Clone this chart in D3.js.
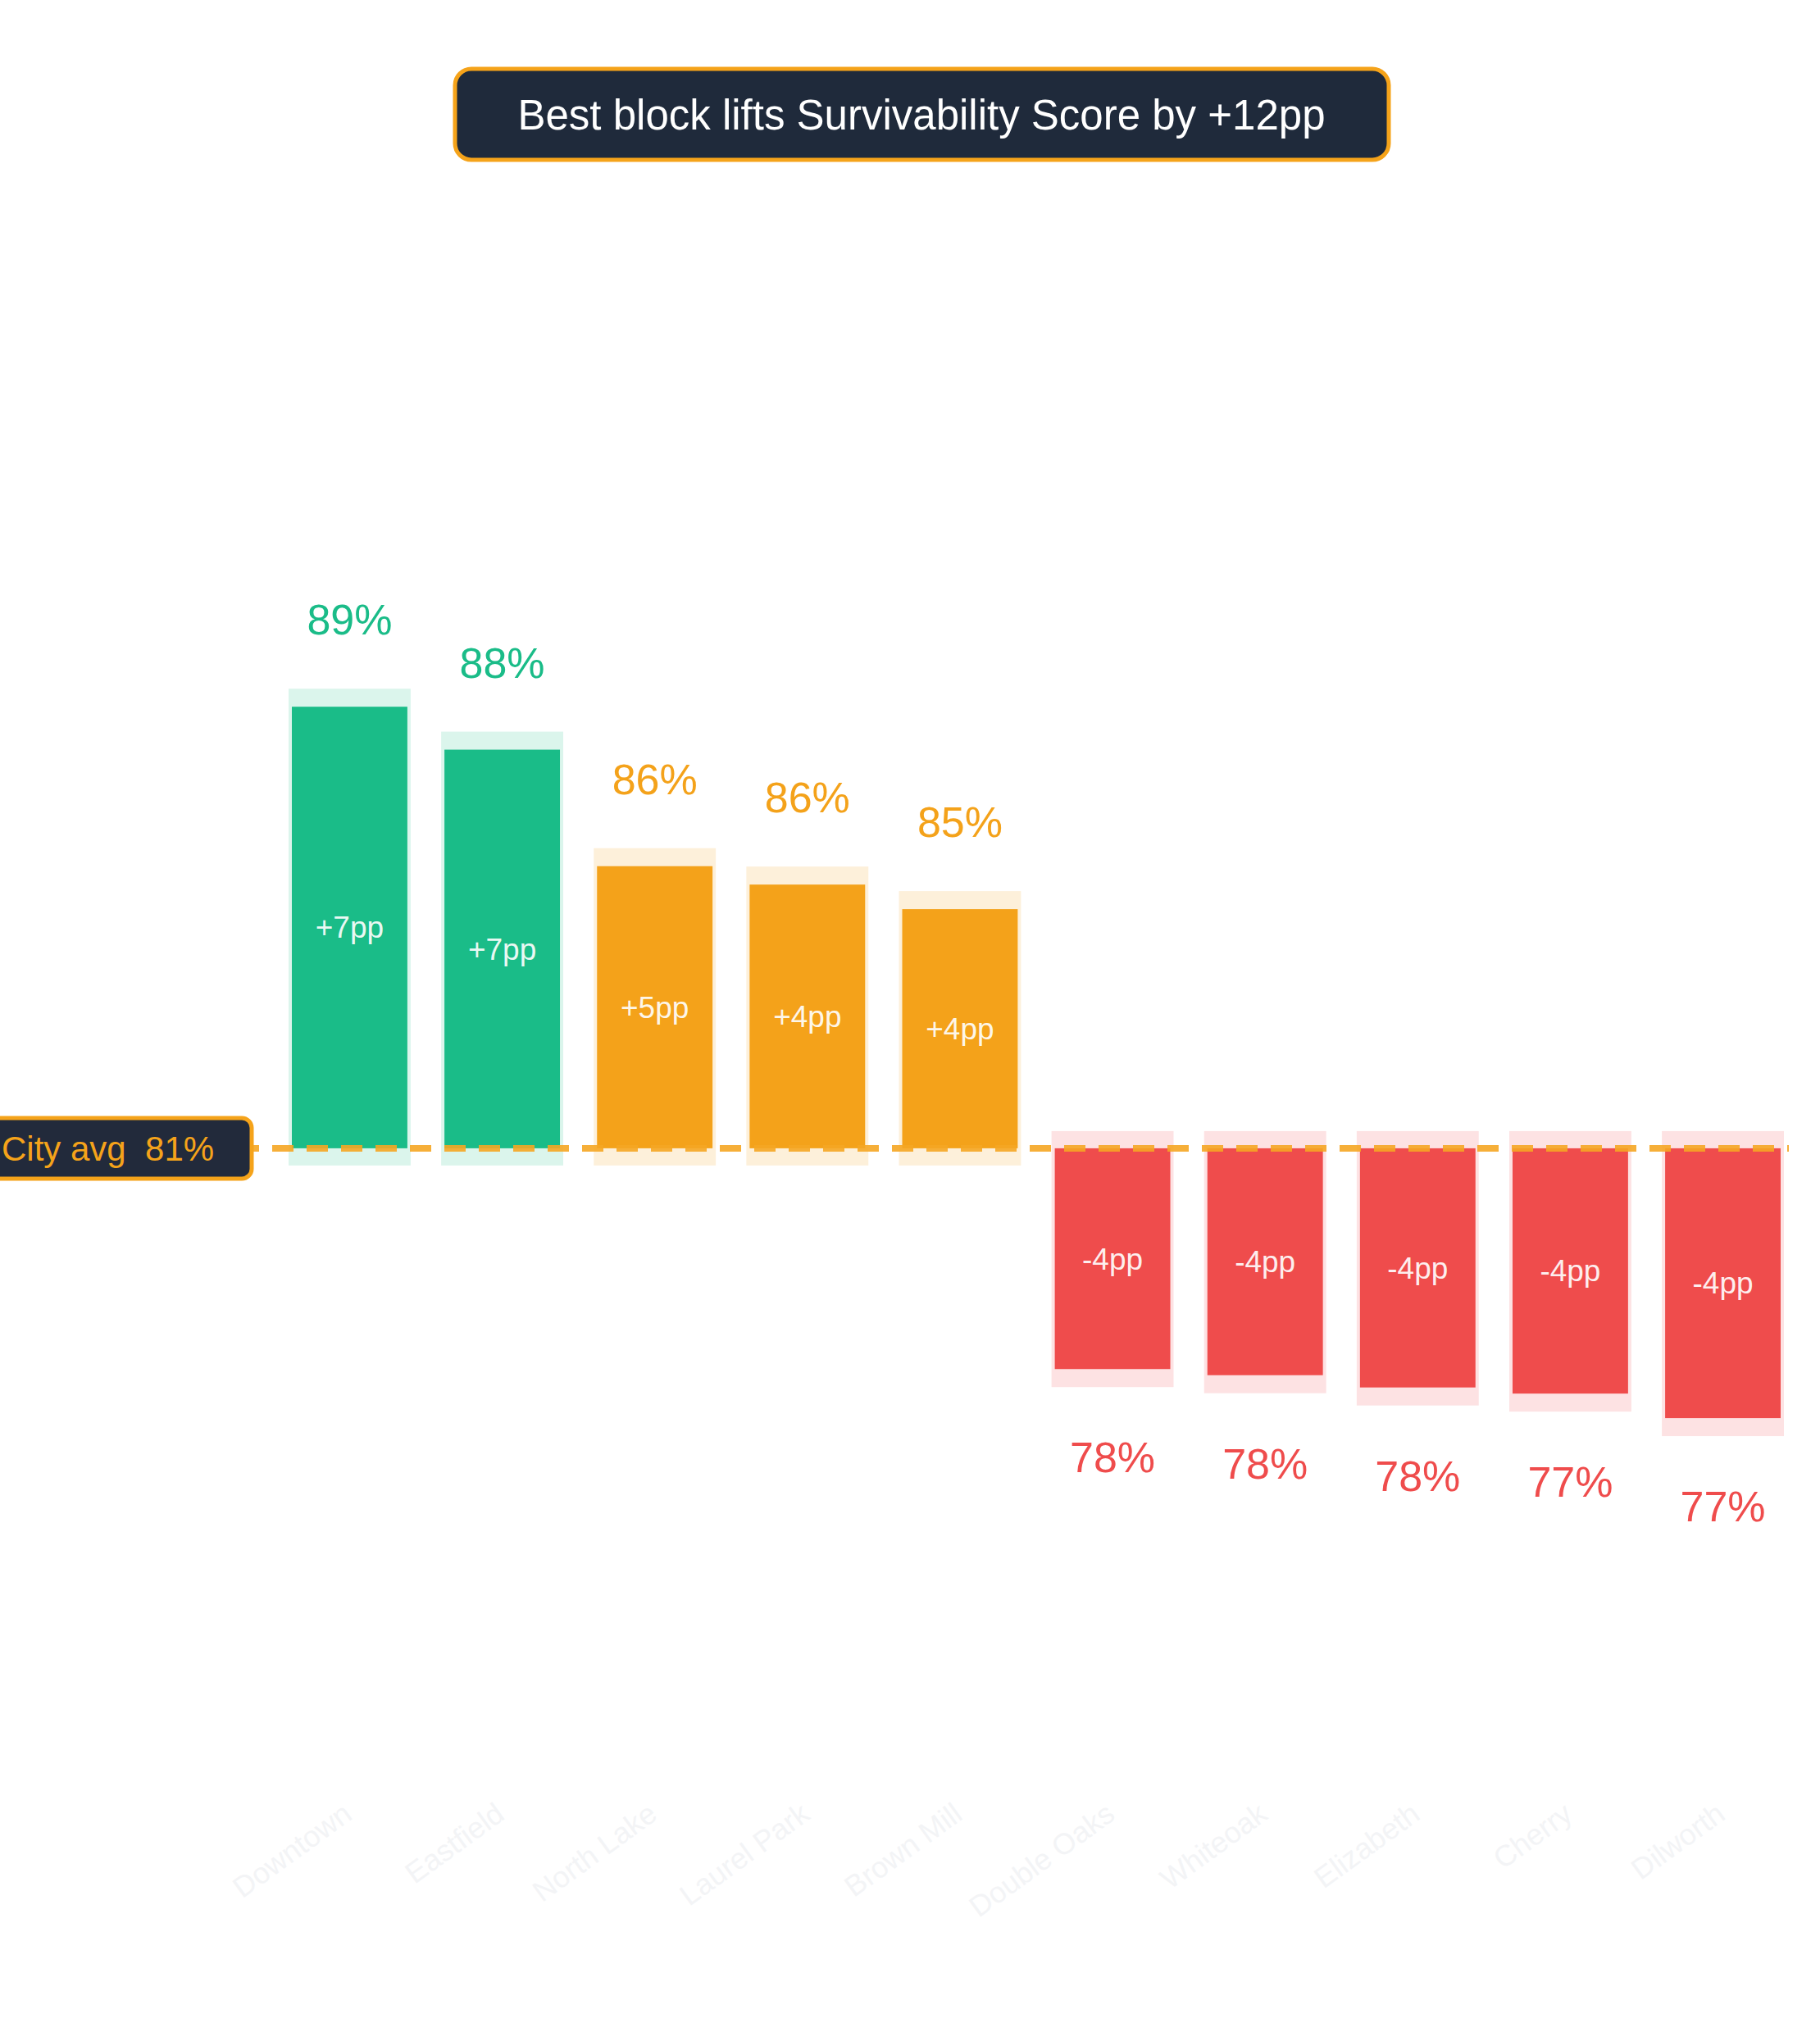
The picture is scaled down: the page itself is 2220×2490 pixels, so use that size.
<!DOCTYPE html>
<html><head><meta charset="utf-8">
<script src="https://cdn.jsdelivr.net/npm/d3@7"></script>
<style>body{margin:0;background:#fff}svg{display:block}</style>
</head><body>
<script>
const categories = ["Downtown","Eastfield","North Lake","Laurel Park","Brown Mill","Double Oaks","Whiteoak","Elizabeth","Cherry","Dilworth"];
const scores = [88.6, 87.9, 86.0, 85.7, 85.3, 77.8, 77.7, 77.5, 77.4, 77.0];
const cityAvg = 81.4;
const titleText = "Best block lifts Survivability Score by +12pp";

const W = 2220, H = 2490;
const font = "'Liberation Sans', Arial, Helvetica, sans-serif";
const svg = d3.select("body").append("svg").attr("width", W).attr("height", H);

const x = d3.scaleBand().domain(categories).range([356, 2172]).paddingInner(0.243).paddingOuter(0.0);
const y = d3.scaleLinear().domain([71, 93]).range([2179, 533]);

function tier(v){ return v >= 87 ? "g" : (v >= cityAvg ? "o" : "r"); }
const col = {g:"#1abc88", o:"#f4a21a", r:"#ef4c4c"};
const bgc = {g:"#dbf5ec", o:"#fdf0da", r:"#fde2e3"};

const base = y(cityAvg);
const g = svg.append("g");
categories.forEach((c, i) => {
  const v = scores[i], t = tier(v);
  const cx = x(c) + x.bandwidth()/2;
  const bw = x.bandwidth();
  const top = Math.min(y(v), base), bot = Math.max(y(v), base);
  const pad = 4;
  // background halo
  g.append("rect").attr("x", x(c) - pad).attr("width", bw + 2*pad)
    .attr("y", v >= cityAvg ? top - 22 : top - 21)
    .attr("height", bot - top + 43).attr("fill", bgc[t]);
  g.append("rect").attr("x", x(c)).attr("width", bw)
    .attr("y", top).attr("height", bot - top).attr("fill", col[t]);
  const d = Math.round(v - cityAvg);
  g.append("text").attr("x", cx).attr("y", (top + bot)/2).attr("dy", "0.35em")
    .attr("text-anchor", "middle").attr("fill", "#fff").attr("fill-opacity", 0.92)
    .attr("font-family", font).attr("font-size", 37)
    .text((d > 0 ? "+" : "") + d + "pp");
  g.append("text").attr("x", cx)
    .attr("y", v >= cityAvg ? top - 106 : bot + 108).attr("dy", "0.35em")
    .attr("text-anchor", "middle").attr("fill", col[t])
    .attr("font-family", font).attr("font-size", 52)
    .text(Math.round(v) + "%");
  // x label
  g.append("text").attr("transform", `translate(${cx + 5},${2218}) rotate(-36)`)
    .attr("text-anchor", "end").attr("fill", "#f3f4f6")
    .attr("font-family", font).attr("font-size", 36).text(c);
});

// city avg line
svg.append("line").attr("x1", 290).attr("x2", 2182).attr("y1", base).attr("y2", base)
  .attr("stroke", "#f5a623").attr("stroke-opacity", 0.9).attr("stroke-width", 8)
  .attr("stroke-dasharray", "26,16");

// city avg label
svg.append("rect").attr("x", -20).attr("y", base - 37).attr("width", 327).attr("height", 74)
  .attr("rx", 12).attr("fill", "#222a3b").attr("stroke", "#f5a31a").attr("stroke-width", 5);
svg.append("text").attr("x", 2).attr("y", base).attr("dy", "0.36em")
  .attr("fill", "#f5a31a").attr("font-family", font).attr("font-size", 42)
  .attr("xml:space", "preserve").text("City avg  " + Math.round(cityAvg) + "%");

// title
svg.append("rect").attr("x", 555).attr("y", 84).attr("width", 1139).attr("height", 111)
  .attr("rx", 20).attr("fill", "#1f2a3b").attr("stroke", "#f5a31a").attr("stroke-width", 5);
svg.append("text").attr("x", 1124).attr("y", 140).attr("dy", "0.36em").attr("text-anchor", "middle")
  .attr("fill", "#fff").attr("font-family", font).attr("font-size", 51).text(titleText);
</script>
</body></html>
